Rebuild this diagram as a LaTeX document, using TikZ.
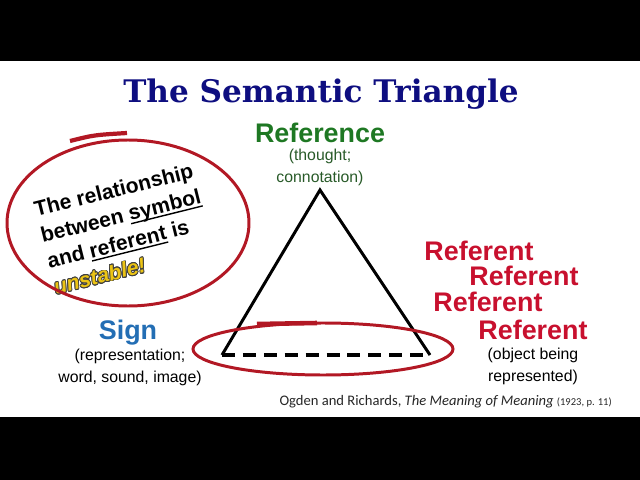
\documentclass[tikz,border=0pt]{standalone}
\usepackage{fontspec}
\setmainfont{Liberation Sans}
\newfontfamily\titlefont{DejaVu Serif}
\newfontfamily\citefont{Carlito}
\usepackage{contour}
\contourlength{0.45pt}
\newsavebox\uwbox
\newcommand\uword[1]{\sbox\uwbox{#1}\rlap{\rule[-2pt]{\wd\uwbox}{0.8pt}}\usebox\uwbox}
\definecolor{navy}{RGB}{14,14,128}
\definecolor{refgreen}{RGB}{30,120,35}
\definecolor{notegreen}{RGB}{40,90,40}
\definecolor{signblue}{RGB}{35,110,180}
\definecolor{refred}{RGB}{200,16,46}
\definecolor{ringred}{RGB}{178,24,36}
\definecolor{warnyellow}{RGB}{236,196,20}
\usetikzlibrary{arrows.meta}

\begin{document}
\begin{tikzpicture}[x=0.02cm,y=-0.02cm,
    head/.style={font=\fontsize{15.3}{18}\selectfont\bfseries},
    note/.style={font=\fontsize{9}{12.5}\selectfont, align=center},
    ring/.style={draw=ringred, line width=1.7pt}]
    \useasboundingbox (0,0) rectangle (640,480);
    \fill[black] (0,0) rectangle (640,61);
    \fill[black] (0,417) rectangle (640,480);
    \node[font=\titlefont\fontsize{17.7}{20}\selectfont\bfseries, text=navy] (title) at (321,94) {The Semantic Triangle};
    \node[head, text=refgreen] (reference) at (320,133) {Reference};
    \node[note, text=notegreen] (thought) at (320,167) {(thought;\\connotation)};
    \node[head, text=signblue] (sign) at (128,333) {Sign};
    \node[note] (representation) at (130,367) {(representation;\\word, sound, image)};
    \node[head, text=refred] (referent1) at (479,251) {Referent};
    \node[head, text=refred] (referent2) at (524,276) {Referent};
    \node[head, text=refred] (referent3) at (488,302) {Referent};
    \node[head, text=refred] (referent4) at (533,330) {Referent};
    \node[note] (object) at (533,366) {(object being\\represented)};
    \node[anchor=east, font=\citefont\fontsize{8.3}{10}\selectfont, text=black!85] (source) at (618,402)
        {Ogden and Richards, \textit{The Meaning of Meaning} {\fontsize{6}{7}\selectfont(1923, p. 11)}};
    \coordinate (v1) at (320,190);
    \coordinate (v2) at (222,355);
    \coordinate (v3) at (430,355);
    \draw[line width=1.7pt] (v2) -- (v1) -- (v3);
    \draw[line width=2.3pt, dash pattern=on 7.4pt off 4.5pt] (v2) -- (v3);
    \draw[ring] (323,349) ellipse [x radius=130, y radius=26];
    \draw[ring, line width=2.6pt] (257,324) -- (317,323);
    \node[font=\fontsize{12}{15.2}\selectfont\bfseries, align=left, rotate=14] (claim) at (124,229)
        {The relationship\\between \uword{symbol}\\and \uword{referent} is\\{\color{warnyellow}\contour{black!75}{\itshape unstable!}}};
    \draw[ring] (128,223) ellipse [x radius=121, y radius=83];
    \draw[ring, line width=2.4pt] (70,141) .. controls (94,135) .. (127,133);
\end{tikzpicture}
\end{document}
